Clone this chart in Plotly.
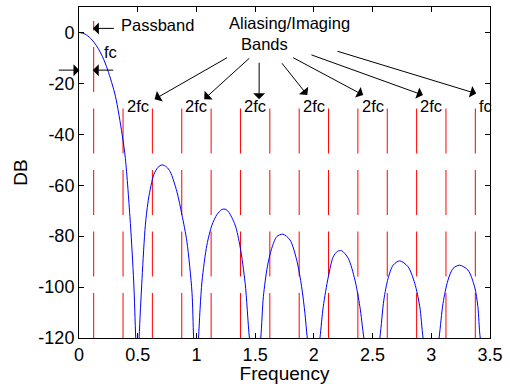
import plotly.graph_objects as go

# Magnitude response (dB) of the interpolation filter, read point by point
freq = [0.00, 0.05, 0.10, 0.15, 0.20, 0.245, 0.31, 0.367, 0.395, 0.4375, 0.466, 0.483, 0.50,
        0.512, 0.537, 0.565, 0.593, 0.636, 0.672, 0.707, 0.745, 0.777, 0.834, 0.877, 0.919, 0.962, 0.976, 1.00,
        1.018, 1.047, 1.089, 1.132, 1.175, 1.217, 1.245, 1.273, 1.33, 1.372, 1.415, 1.451, 1.50,
        1.548, 1.570, 1.604, 1.641, 1.684, 1.735, 1.797, 1.854, 1.896, 1.924, 1.944, 2.00,
        2.052, 2.080, 2.123, 2.165, 2.20, 2.236, 2.293, 2.35, 2.392, 2.426, 2.50,
        2.562, 2.596, 2.632, 2.675, 2.732, 2.802, 2.859, 2.902, 2.93, 3.00,
        3.066, 3.10, 3.142, 3.185, 3.241, 3.312, 3.369, 3.397, 3.417, 3.50]
mag_db = [0.0, -0.6, -2.4, -5.3, -9.5, -14.8, -25.0, -40.0, -49.5, -75.0, -98.0, -120.0, -140.0,
          -120.0, -96.6, -75.7, -65.0, -56.0, -53.0, -52.0, -52.8, -54.7, -62.6, -71.7, -82.2, -102.0, -120.0, -140.0,
          -120.0, -98.0, -83.5, -75.7, -71.5, -69.5, -69.4, -70.4, -75.7, -84.2, -98.5, -120.0, -140.0,
          -120.0, -103.8, -92.0, -84.8, -80.2, -79.2, -81.5, -89.4, -99.9, -110.3, -120.0, -140.0,
          -120.0, -107.7, -96.0, -88.1, -86.0, -85.7, -88.7, -97.3, -107.7, -120.0, -140.0,
          -120.0, -105.1, -96.6, -91.4, -89.7, -92.0, -98.5, -107.7, -120.0, -140.0,
          -120.0, -106.4, -97.3, -92.7, -91.4, -93.3, -99.9, -107.7, -120.0, -140.0]

# Band edge markers (fc and the images around multiples of 2fc)
edge_x = [0.125, 0.375, 0.625, 0.875, 1.125, 1.375, 1.625, 1.875,
          2.125, 2.375, 2.625, 2.875, 3.125, 3.375]
edge_top = [4.5] + [-28.0] * 13
edge_bottom = -120.0

# Image-band labels
band_label_x = [0.5, 1.0, 1.5, 2.0, 2.5, 3.0]
band_label_y = -28.9
band_label_text = "2fc"

# Arrows from the "Aliasing/Imaging Bands" caption: (tail x, tail y, head x, head y)
alias_tail_x = [1.273, 1.463, 1.534, 1.718, 1.811, 1.967, 2.188]
alias_tail_y = [-9.6, -9.6, -11.3, -11.5, -9.6, -8.6, -7.2]
alias_head_x = [0.644, 1.066, 1.534, 1.944, 2.420, 2.929, 3.383]
alias_head_y = [-26.2, -26.2, -26.2, -24.6, -24.6, -24.6, -24.0]

x_ticks = [0, 0.5, 1, 1.5, 2, 2.5, 3, 3.5]
x_tick_text = ["0", "0.5", "1", "1.5", "2", "2.5", "3", "3.5"]
y_ticks = [-120, -100, -80, -60, -40, -20, 0]
y_tick_text = ["-120", "-100", "-80", "-60", "-40", "-20", "0"]

FONT = "Liberation Sans, Arial, Helvetica, sans-serif"

fig = go.Figure()

for ex, et in zip(edge_x, edge_top):
    fig.add_trace(go.Scatter(
        x=[ex, ex], y=[edge_bottom, et], mode="lines",
        line=dict(color="#ff0000", width=1, dash="45px,16.5px"),
        hoverinfo="skip", showlegend=False))

fig.add_trace(go.Scatter(
    x=freq, y=mag_db, mode="lines",
    line=dict(color="#0000ff", width=1, shape="spline", smoothing=0.8),
    showlegend=False))

ann = []
arrow_style = dict(showarrow=True, arrowhead=1, arrowsize=2.0, arrowwidth=1,
                   arrowcolor="black", text="", xref="x", yref="y", axref="x", ayref="y")

# Passband marker
ann.append(dict(x=0.118, y=1.6, ax=0.31, ay=1.6, **arrow_style))
ann.append(dict(x=0.343, y=2.9, text="Passband", showarrow=False, xanchor="left",
                yanchor="middle", font=dict(size=16.5)))
# fc width arrows
ann.append(dict(x=0.004, y=-14.8, ax=-0.185, ay=-14.8, **arrow_style))
ann.append(dict(x=0.117, y=-14.8, ax=0.304, ay=-14.8, **arrow_style))
ann.append(dict(x=0.272, y=-7.6, text="fc", showarrow=False, xanchor="center",
                yanchor="middle", font=dict(size=16.5)))

# Caption for the image bands
ann.append(dict(x=1.79, y=3.6, text="Aliasing/Imaging", showarrow=False,
                xanchor="center", yanchor="middle", font=dict(size=16.5)))
ann.append(dict(x=1.576, y=-4.6, text="Bands", showarrow=False,
                xanchor="center", yanchor="middle", font=dict(size=16.5)))
for tx, ty, hx, hy in zip(alias_tail_x, alias_tail_y, alias_head_x, alias_head_y):
    ann.append(dict(x=hx, y=hy, ax=tx, ay=ty, **arrow_style))

for bx in band_label_x:
    ann.append(dict(x=bx, y=band_label_y, text=band_label_text, showarrow=False,
                    xanchor="center", yanchor="middle", font=dict(size=16.5)))
ann.append(dict(x=3.392, y=band_label_y, text="fc", showarrow=False,
                xanchor="left", yanchor="middle", font=dict(size=16.5)))

axis_common = dict(showline=True, linecolor="black", linewidth=1, mirror="ticks",
                   ticks="inside", ticklen=5, tickcolor="black", showgrid=False,
                   zeroline=False, automargin=False,
                   tickfont=dict(size=18, color="black"))

fig.update_layout(
    width=510, height=384,
    margin=dict(l=79, r=20, t=7, b=46),
    paper_bgcolor="white", plot_bgcolor="white",
    font=dict(family=FONT, color="black", size=16.5),
    annotations=ann,
    xaxis=dict(range=[0, 3.5], tickvals=x_ticks, ticktext=x_tick_text,
               title=dict(text="Frequency", font=dict(size=19), standoff=7),
               **axis_common),
    yaxis=dict(range=[-120, 10], tickvals=y_ticks, ticktext=y_tick_text,
               title=dict(text="DB", font=dict(size=19), standoff=5),
               **axis_common),
)

fig.write_html("out.html")
